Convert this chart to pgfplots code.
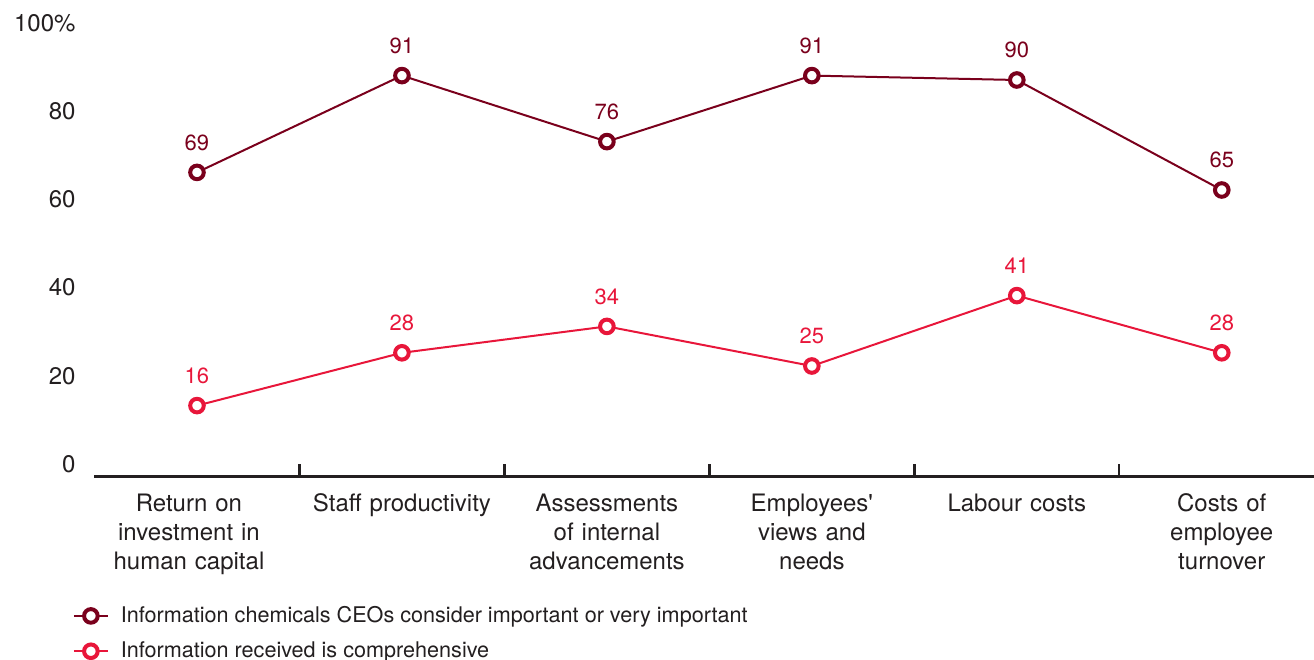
\documentclass[border=0pt]{standalone}
\usepackage{pgfplots}
\pgfplotsset{compat=1.18}
\usepackage{fontspec}
\setmainfont{TeX Gyre Heros}
\definecolor{darkred}{RGB}{122,0,28}
\definecolor{brightred}{RGB}{232,22,58}
\definecolor{txt}{RGB}{35,31,32}
\begin{document}
\begin{tikzpicture}
\begin{axis}[
  name=ax,
  scale only axis, width=609.75bp, height=220bp,
  xmin=-0.5, xmax=5.45, ymin=0, ymax=100,
  /pgf/number format/assume math mode=true,
  separate axis lines,
  axis x line*=bottom, axis y line*=left,
  x axis line style={line width=1.5bp, txt, -},
  y axis line style={draw=none},
  xtick={0,1,2,3,4,5},
  xticklabels={{Return on\rule{8bp}{0pt}\\investment in\rule{8bp}{0pt}\\human capital\rule{8bp}{0pt}},{Staff productivity},{Assessments\\of internal\\advancements},{Employees\textquotesingle\\views and\\needs},{Labour costs},{Costs of\\employee\\turnover}},
  major x tick style={draw=none},
  minor xtick={0.5,1.5,2.5,3.5,4.5},
  minor tick length=6bp,
  tick align=inside,
  minor x tick style={line width=1.2bp, txt},
  xticklabel style={align=center, text width=100bp, anchor=north, yshift=-5.5bp, font=\fontsize{12bp}{14.5bp}\selectfont, text=txt},
  ytick={0,20,40,60,80,100},
  yticklabels={0,20,40,60,80,100\%},
  ytick style={draw=none},
  yticklabel style={anchor=base east, xshift=-6bp, yshift=2bp, font=\fontsize{12bp}{14bp}\selectfont, text=txt},
  legend style={at={(0,0)}, anchor=north west, xshift=-14bp, yshift=-61bp, draw=none, fill=none, font=\fontsize{10.8bp}{13bp}\selectfont, text=txt, row sep=4.2bp, /tikz/every odd column/.append style={column sep=4bp}},
  legend cell align=left,
  clip=false,
]
\addplot[darkred, line width=1bp, mark=*, mark size=3.4bp, mark options={fill=white, draw=darkred, line width=2bp},
  nodes near coords, every node near coord/.append style={text=darkred, anchor=south, inner sep=0pt, yshift=10bp, font=\fontsize{11bp}{13bp}\selectfont}]
  coordinates {(0,69) (1,91) (2,76) (3,91) (4,90) (5,65)};
\addlegendentry{Information chemicals CEOs consider important or very important}
\addplot[brightred, line width=1bp, mark=*, mark size=3.4bp, mark options={fill=white, draw=brightred, line width=2bp},
  nodes near coords, every node near coord/.append style={text=brightred, anchor=south, inner sep=0pt, yshift=10bp, font=\fontsize{11bp}{13bp}\selectfont}]
  coordinates {(0,16) (1,28) (2,34) (3,25) (4,41) (5,28)};
\addlegendentry{Information received is comprehensive}
\end{axis}
\pgfresetboundingbox
\path ([xshift=-47.25bp, yshift=-92bp]ax.south west) rectangle ([yshift=18bp]ax.north east);
\end{tikzpicture}
\end{document}
